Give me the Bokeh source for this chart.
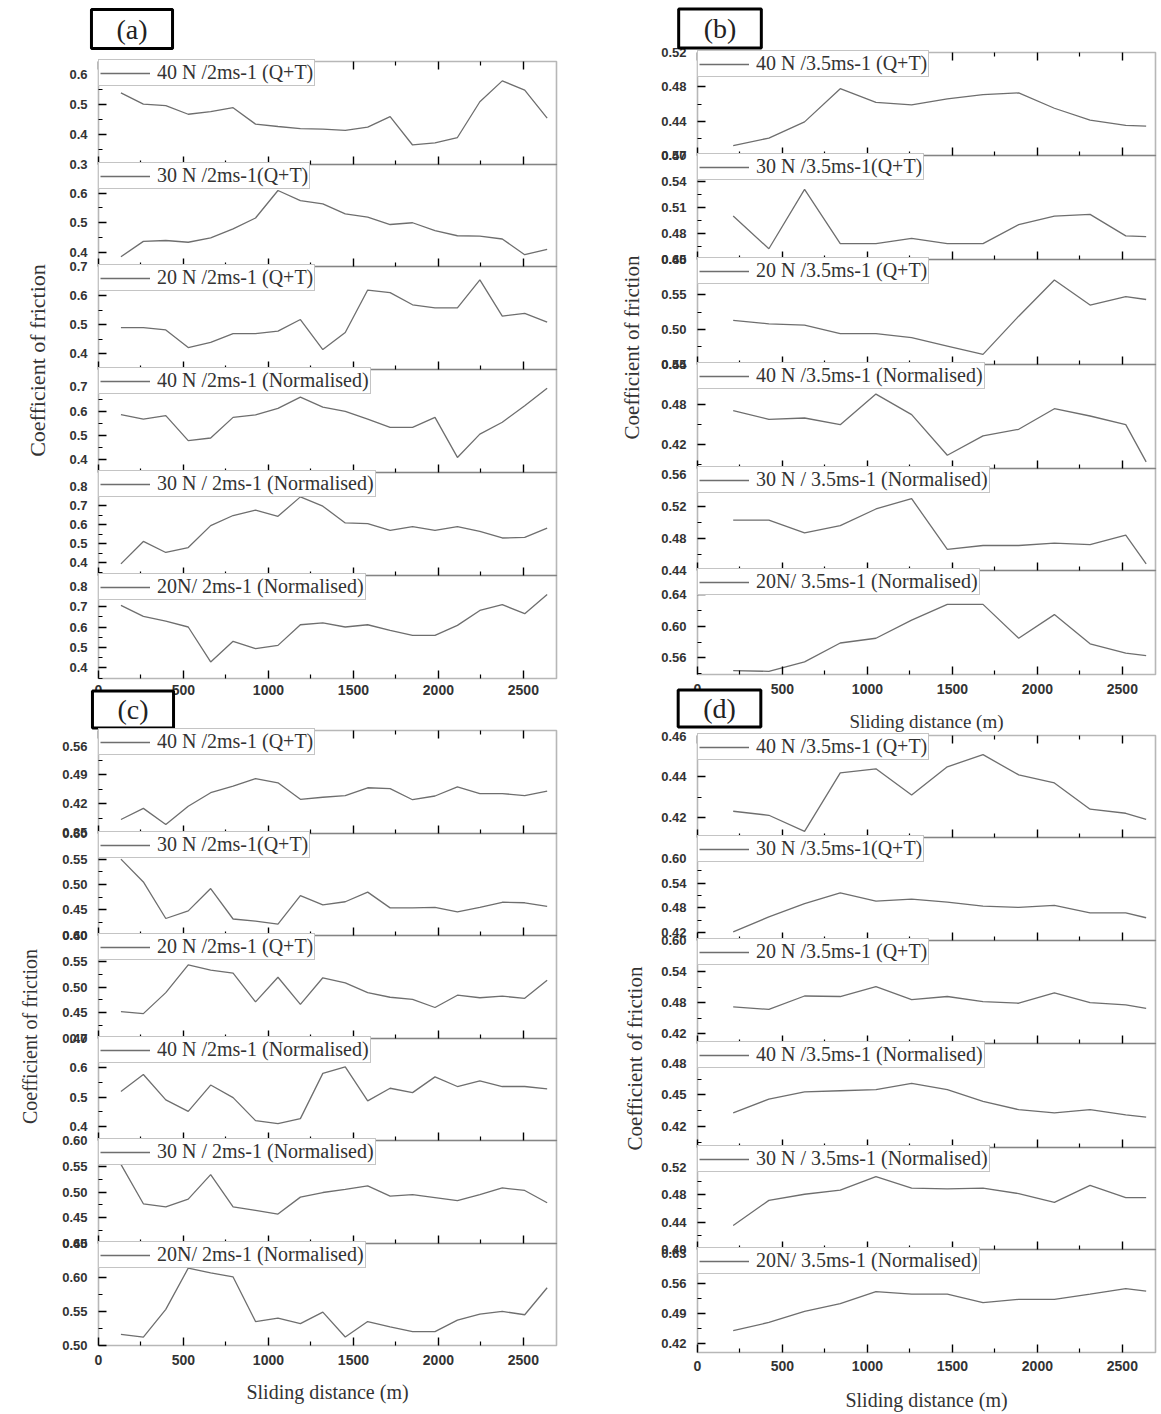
from math import pi
from bokeh.plotting import figure
from bokeh.models import (Range1d, FixedTicker, LinearAxis, Label, PrintfTickFormatter,
                          Legend, LegendItem, BoxAnnotation)
from bokeh.layouts import row
from bokeh.embed import file_html
from bokeh.resources import INLINE

# ---------------- data ----------------
dist_2ms = [132, 264, 396, 528, 660, 792, 924, 1056, 1188, 1320,
            1452, 1584, 1716, 1848, 1980, 2112, 2244, 2376, 2508, 2640]
dist_35ms = [210, 420, 630, 840, 1050, 1260, 1470, 1680, 1890, 2100, 2310, 2520, 2640]

x_ticks = [0, 500, 1000, 1500, 2000, 2500]
x_minor = [250, 750, 1250, 1750, 2250]

labels_2ms = ["40 N /2ms-1 (Q+T)", "30 N /2ms-1(Q+T)", "20 N /2ms-1 (Q+T)",
              "40 N /2ms-1 (Normalised)", "30 N / 2ms-1 (Normalised)", "20N/ 2ms-1 (Normalised)"]
labels_35ms = ["40 N /3.5ms-1 (Q+T)", "30 N /3.5ms-1(Q+T)", "20 N /3.5ms-1 (Q+T)",
               "40 N /3.5ms-1 (Normalised)", "30 N / 3.5ms-1 (Normalised)", "20N/ 3.5ms-1 (Normalised)"]

# panel (a)
a1 = [0.540, 0.502, 0.497, 0.468, 0.477, 0.490, 0.435, 0.427, 0.420, 0.418,
      0.414, 0.425, 0.460, 0.365, 0.372, 0.390, 0.510, 0.580, 0.549, 0.455]
a2 = [0.385, 0.437, 0.440, 0.434, 0.449, 0.479, 0.516, 0.609, 0.575, 0.564,
      0.530, 0.519, 0.494, 0.500, 0.473, 0.456, 0.455, 0.445, 0.392, 0.410]
a3 = [0.490, 0.490, 0.482, 0.421, 0.439, 0.469, 0.469, 0.478, 0.518, 0.414,
      0.473, 0.620, 0.611, 0.569, 0.558, 0.558, 0.655, 0.530, 0.539, 0.509]
a4 = [0.586, 0.568, 0.582, 0.479, 0.490, 0.575, 0.585, 0.612, 0.658, 0.617,
      0.600, 0.568, 0.534, 0.534, 0.575, 0.410, 0.506, 0.555, 0.623, 0.695]
a5 = [0.394, 0.512, 0.454, 0.480, 0.595, 0.648, 0.676, 0.644, 0.746, 0.697,
      0.609, 0.605, 0.570, 0.590, 0.570, 0.590, 0.565, 0.530, 0.533, 0.582]
a6 = [0.706, 0.652, 0.629, 0.600, 0.429, 0.530, 0.494, 0.510, 0.611, 0.620,
      0.600, 0.611, 0.584, 0.559, 0.559, 0.608, 0.681, 0.709, 0.665, 0.759]
a_ranges = [(0.2995, 0.645), (0.352, 0.697), (0.345, 0.7015),
            (0.348, 0.772), (0.333, 0.874), (0.348, 0.852)]
a_ticks = [[0.3, 0.4, 0.5, 0.6], [0.4, 0.5, 0.6], [0.4, 0.5, 0.6, 0.7],
           [0.4, 0.5, 0.6, 0.7], [0.4, 0.5, 0.6, 0.7, 0.8], [0.4, 0.5, 0.6, 0.7, 0.8]]
a_decimals = [1, 1, 1, 1, 1, 1]

# panel (c)
c1 = [0.382, 0.409, 0.370, 0.414, 0.447, 0.463, 0.481, 0.471, 0.431, 0.436,
      0.440, 0.459, 0.457, 0.430, 0.439, 0.461, 0.445, 0.445, 0.440, 0.451]
c2 = [0.550, 0.505, 0.433, 0.448, 0.492, 0.432, 0.428, 0.422, 0.478, 0.460,
      0.466, 0.485, 0.454, 0.454, 0.455, 0.446, 0.455, 0.465, 0.464, 0.457]
c3 = [0.452, 0.448, 0.489, 0.543, 0.533, 0.527, 0.471, 0.519, 0.466, 0.518,
      0.508, 0.489, 0.480, 0.476, 0.460, 0.484, 0.479, 0.482, 0.478, 0.513]
c4 = [0.519, 0.577, 0.490, 0.451, 0.541, 0.498, 0.419, 0.409, 0.426, 0.581,
      0.603, 0.487, 0.530, 0.515, 0.569, 0.536, 0.555, 0.536, 0.536, 0.528]
c5 = [0.554, 0.477, 0.471, 0.486, 0.534, 0.471, 0.464, 0.457, 0.490, 0.499,
      0.505, 0.512, 0.492, 0.495, 0.489, 0.483, 0.495, 0.508, 0.503, 0.479]
c6 = [0.516, 0.512, 0.553, 0.614, 0.607, 0.601, 0.535, 0.540, 0.532, 0.549,
      0.512, 0.535, 0.527, 0.520, 0.520, 0.537, 0.546, 0.550, 0.545, 0.585]
c_ranges = [(0.348, 0.598), (0.3995, 0.6005), (0.3995, 0.6005),
            (0.351, 0.7005), (0.3995, 0.6005), (0.4995, 0.6505)]
c_ticks = [[0.35, 0.42, 0.49, 0.56], [0.40, 0.45, 0.50, 0.55, 0.60], [0.40, 0.45, 0.50, 0.55, 0.60],
           [0.4, 0.5, 0.6, 0.7], [0.40, 0.45, 0.50, 0.55, 0.60], [0.50, 0.55, 0.60, 0.65]]
c_decimals = [2, 2, 2, 1, 2, 2]

# panel (b)
b1 = [0.411, 0.420, 0.439, 0.478, 0.462, 0.459, 0.466, 0.471, 0.473, 0.455, 0.441, 0.435, 0.434]
b2 = [0.500, 0.462, 0.531, 0.468, 0.468, 0.474, 0.468, 0.468, 0.490, 0.500, 0.502, 0.477, 0.476]
b3 = [0.513, 0.508, 0.506, 0.494, 0.494, 0.488, 0.476, 0.464, 0.519, 0.571, 0.535, 0.547, 0.543]
b4 = [0.471, 0.458, 0.460, 0.450, 0.496, 0.465, 0.404, 0.433, 0.443, 0.474, 0.463, 0.450, 0.394]
b5 = [0.503, 0.503, 0.487, 0.496, 0.517, 0.530, 0.466, 0.471, 0.471, 0.474, 0.472, 0.484, 0.448]
b6 = [0.544, 0.543, 0.555, 0.579, 0.585, 0.608, 0.628, 0.628, 0.585, 0.615, 0.578, 0.566, 0.563]
b_ranges = [(0.3995, 0.5205), (0.4495, 0.5705), (0.4495, 0.6005),
            (0.384, 0.5405), (0.4395, 0.568), (0.539, 0.671)]
b_ticks = [[0.40, 0.44, 0.48, 0.52], [0.45, 0.48, 0.51, 0.54, 0.57], [0.45, 0.50, 0.55, 0.60],
           [0.42, 0.48, 0.54], [0.44, 0.48, 0.52, 0.56], [0.56, 0.60, 0.64]]
b_decimals = [2, 2, 2, 2, 2, 2]

# panel (d)
d1 = [0.423, 0.421, 0.413, 0.442, 0.444, 0.431, 0.445, 0.451, 0.441, 0.437, 0.424, 0.422, 0.419]
d2 = [0.422, 0.458, 0.490, 0.516, 0.496, 0.501, 0.494, 0.484, 0.481, 0.486, 0.468, 0.468, 0.456]
d3 = [0.472, 0.467, 0.493, 0.492, 0.511, 0.486, 0.492, 0.482, 0.479, 0.499, 0.480, 0.476, 0.469]
d4 = [0.433, 0.446, 0.453, 0.454, 0.455, 0.461, 0.455, 0.444, 0.436, 0.433, 0.436, 0.431, 0.429]
d5 = [0.435, 0.472, 0.481, 0.487, 0.507, 0.490, 0.489, 0.490, 0.482, 0.469, 0.494, 0.476, 0.476]
d6 = [0.451, 0.470, 0.496, 0.514, 0.542, 0.536, 0.536, 0.516, 0.524, 0.524, 0.536, 0.549, 0.543]
d_ranges = [(0.41, 0.4605), (0.401, 0.65), (0.401, 0.6005),
            (0.40, 0.499), (0.3995, 0.55), (0.40, 0.64)]
d_ticks = [[0.42, 0.44, 0.46], [0.42, 0.48, 0.54, 0.60], [0.42, 0.48, 0.54, 0.60],
           [0.42, 0.45, 0.48], [0.40, 0.44, 0.48, 0.52], [0.42, 0.49, 0.56, 0.63]]
d_decimals = [2, 2, 2, 2, 2, 2]

# ---------------- layout / style ----------------
PAGE_H = 1414
FRAME_W = 458
X_END = 2695
LEG_H = 25
LINE = "#6e6e6e"
TXT = "#333333"
SERIF = "Liberation Serif"
SANS = "Liberation Sans"
X_TITLE = "Sliding distance (m)"

# strip boundaries (page pixels from the top) for each panel
a_bounds = [61, 164, 266, 369, 472, 575, 678]
c_bounds = [730, 833, 935, 1038, 1140, 1243, 1345]
b_bounds = [52, 155, 259, 364, 468, 570, 674]
d_bounds = [735, 837, 940, 1043, 1147, 1249, 1352]


def minor_of(t):
    step = t[1] - t[0]
    return [t[0] - step / 2] + [(t[i] + t[i + 1]) / 2 for i in range(len(t) - 1)] + [t[-1] + step / 2]


def style_ticks(ax):
    ax.axis_line_color = None
    ax.major_tick_in = 8
    ax.major_tick_out = 0
    ax.minor_tick_in = 4
    ax.minor_tick_out = 0
    ax.major_tick_line_color = "black"
    ax.minor_tick_line_color = "black"
    ax.major_tick_line_width = 1.4
    ax.minor_tick_line_width = 1.2


def hide_labels(ax):
    ax.major_label_text_font_size = "0px"
    ax.major_label_text_color = None


def style_xlabels(ax, standoff):
    ax.major_label_standoff = standoff
    ax.major_label_text_font = SANS
    ax.major_label_text_font_style = "bold"
    ax.major_label_text_font_size = "14px"
    ax.major_label_text_color = TXT


def make_canvas(width, L, R):
    k = X_END / FRAME_W
    p = figure(width=width, height=PAGE_H, min_border=0,
               x_range=Range1d(-L * k, X_END + R * k), y_range=Range1d(0, PAGE_H),
               output_backend="svg", toolbar_location=None, title=None,
               x_axis_location=None, y_axis_location=None,
               outline_line_color=None, background_fill_color="white",
               border_fill_color="white")
    p.grid.visible = False
    return p


def strip_ranges(pid, ranges, bounds):
    out = {}
    for i, (lo, hi) in enumerate(ranges):
        T, B = bounds[i], bounds[i + 1]
        s = (hi - lo) / (B - T)
        out["%s%d" % (pid, i)] = Range1d(lo - (PAGE_H - B) * s, hi + T * s)
    return out


def add_panel(p, pid, L, xs, series, ranges, ticks, decs, labels, bounds, xstandoff):
    n = len(series)
    for i in range(n):
        name = "%s%d" % (pid, i)
        lo, hi = ranges[i]
        r = p.line(xs, series[i], y_range_name=name, line_color=LINE, line_width=1.3)

        yt = [t for t in ticks[i] if lo <= t <= hi]
        ym = [m for m in minor_of(ticks[i]) if lo < m < hi]
        ya = LinearAxis(y_range_name=name, fixed_location=0,
                        ticker=FixedTicker(ticks=yt, minor_ticks=ym),
                        formatter=PrintfTickFormatter(format="%%.%df" % decs[i]))
        style_ticks(ya)
        ya.major_label_standoff = 11
        ya.major_label_text_font = SANS
        ya.major_label_text_font_style = "bold"
        ya.major_label_text_font_size = "13px"
        ya.major_label_text_color = TXT
        p.add_layout(ya, "left")

        xa = LinearAxis(y_range_name=name, fixed_location=lo,
                        ticker=FixedTicker(ticks=x_ticks, minor_ticks=x_minor))
        style_ticks(xa)
        if i == n - 1:
            style_xlabels(xa, xstandoff)
        else:
            hide_labels(xa)
        p.add_layout(xa, "below")

        if i == 0:
            ta = LinearAxis(y_range_name=name, fixed_location=hi,
                            ticker=FixedTicker(ticks=x_ticks, minor_ticks=x_minor))
            style_ticks(ta)
            hide_labels(ta)
            p.add_layout(ta, "above")

        lg = Legend(items=[LegendItem(label=labels[i], renderers=[r])],
                    location=(L, PAGE_H - bounds[i] - LEG_H))
        lg.margin = 0
        lg.padding = 1
        lg.spacing = 0
        lg.label_standoff = 7
        lg.glyph_width = 50
        lg.glyph_height = 20
        lg.label_height = 20
        lg.label_text_font = SERIF
        lg.label_text_font_size = "20px"
        lg.label_text_color = TXT
        lg.border_line_color = "#8a8a8a"
        lg.border_line_width = 1.5
        lg.background_fill_alpha = 1.0
        p.add_layout(lg)

    for i in range(n):
        name = "%s%d" % (pid, i)
        lo, hi = ranges[i]
        p.add_layout(BoxAnnotation(left=0, right=X_END, bottom=lo, top=hi,
                                   y_range_name=name, fill_color=None,
                                   line_color="#111111", line_width=1.6,
                                   level="overlay"))


def text_label(p, text, x, y_page, size):
    p.add_layout(Label(x=x, y=PAGE_H - y_page, x_units="screen", y_units="screen",
                       text=text, text_align="center", text_baseline="middle",
                       text_font=SERIF, text_font_size=size, text_color=TXT))


def panel_box(p, text, x, y_page, pv):
    p.add_layout(Label(x=x, y=PAGE_H - y_page, x_units="screen", y_units="screen", text=text,
                       text_align="center", text_baseline="middle",
                       text_font=SERIF, text_font_size="28px", text_color="#222222",
                       border_line_color="black", border_line_width=3,
                       background_fill_color="white", background_fill_alpha=1.0,
                       padding=dict(left=25, right=25, top=pv, bottom=pv)))


def ylabel(p, x, y_page, size):
    p.add_layout(Label(x=x, y=PAGE_H - y_page, x_units="screen", y_units="screen",
                       text="Coefficient of friction", angle=pi / 2,
                       text_align="center", text_baseline="middle",
                       text_font=SERIF, text_font_size=size, text_color=TXT))


# ---------------- left column: (a) and (c) ----------------
left = make_canvas(600, 98, 44)
rng = {}
rng.update(strip_ranges("a", a_ranges, a_bounds))
rng.update(strip_ranges("c", c_ranges, c_bounds))
left.extra_y_ranges = rng
add_panel(left, "a", 98, dist_2ms, [a1, a2, a3, a4, a5, a6], a_ranges, a_ticks, a_decimals,
          labels_2ms, a_bounds, 6)
add_panel(left, "c", 98, dist_2ms, [c1, c2, c3, c4, c5, c6], c_ranges, c_ticks, c_decimals,
          labels_2ms, c_bounds, 9)
text_label(left, X_TITLE, 327, 1391, "20px")
panel_box(left, "(a)", 131.5, 28.5, 4)
panel_box(left, "(c)", 132.5, 709, 3)
ylabel(left, 37, 360, "22px")
ylabel(left, 29, 1036, "20px")

# ---------------- right column: (b) and (d) ----------------
right = make_canvas(561, 97, 6)
rng = {}
rng.update(strip_ranges("b", b_ranges, b_bounds))
rng.update(strip_ranges("d", d_ranges, d_bounds))
right.extra_y_ranges = rng
add_panel(right, "b", 97, dist_35ms, [b1, b2, b3, b4, b5, b6], b_ranges, b_ticks, b_decimals,
          labels_35ms, b_bounds, 9)
add_panel(right, "d", 97, dist_35ms, [d1, d2, d3, d4, d5, d6], d_ranges, d_ticks, d_decimals,
          labels_35ms, d_bounds, 8)
text_label(right, X_TITLE, 326, 721, "19px")
text_label(right, X_TITLE, 326, 1399, "20px")
panel_box(right, "(b)", 119.5, 28, 4)
panel_box(right, "(d)", 119, 708, 3)
ylabel(right, 31, 347, "21px")
ylabel(right, 34, 1058, "21px")

layout = row(left, right)
open("out.html", "w").write(file_html(layout, INLINE))
